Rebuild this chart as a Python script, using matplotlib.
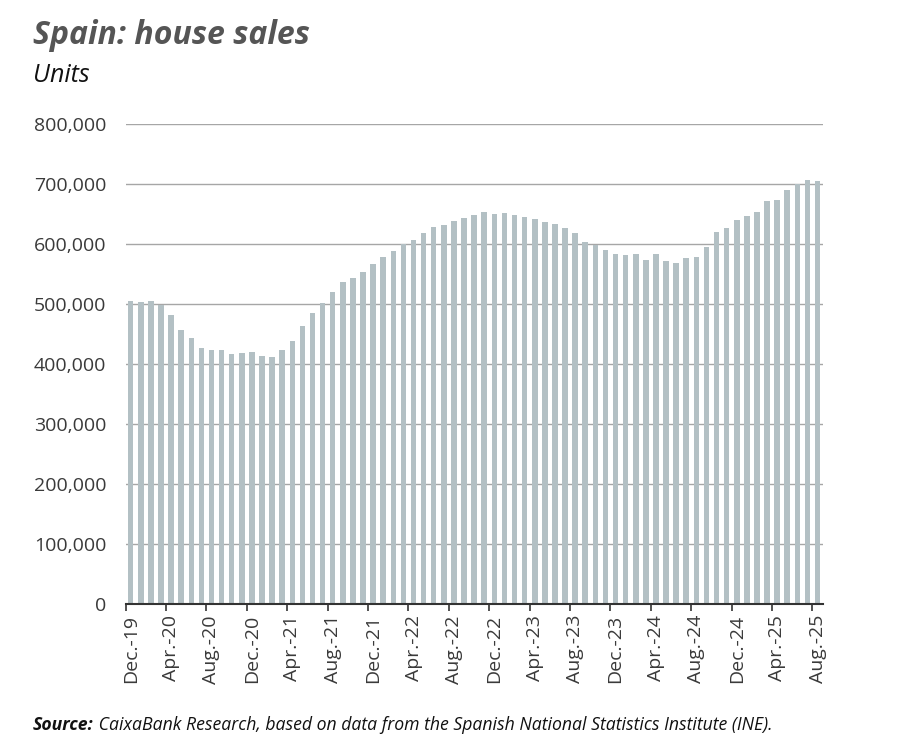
import matplotlib
matplotlib.use("Agg")
import matplotlib.pyplot as plt
from matplotlib.ticker import FuncFormatter, FixedLocator

months = ["Dec.-19", "Jan.-20", "Feb.-20", "Mar.-20", "Apr.-20", "May-20", "Jun.-20", "Jul.-20",
          "Aug.-20", "Sep.-20", "Oct.-20", "Nov.-20", "Dec.-20", "Jan.-21", "Feb.-21", "Mar.-21",
          "Apr.-21", "May-21", "Jun.-21", "Jul.-21", "Aug.-21", "Sep.-21", "Oct.-21", "Nov.-21",
          "Dec.-21", "Jan.-22", "Feb.-22", "Mar.-22", "Apr.-22", "May-22", "Jun.-22", "Jul.-22",
          "Aug.-22", "Sep.-22", "Oct.-22", "Nov.-22", "Dec.-22", "Jan.-23", "Feb.-23", "Mar.-23",
          "Apr.-23", "May-23", "Jun.-23", "Jul.-23", "Aug.-23", "Sep.-23", "Oct.-23", "Nov.-23",
          "Dec.-23", "Jan.-24", "Feb.-24", "Mar.-24", "Apr.-24", "May-24", "Jun.-24", "Jul.-24",
          "Aug.-24", "Sep.-24", "Oct.-24", "Nov.-24", "Dec.-24", "Jan.-25", "Feb.-25", "Mar.-25",
          "Apr.-25", "May-25", "Jun.-25", "Jul.-25", "Aug.-25"]

sales = [505000, 503000, 505000, 498000, 482000, 456000, 443000, 427000,
         423000, 423000, 417000, 418000, 420000, 413000, 411000, 423000,
         439000, 464000, 485000, 502000, 520000, 536000, 544000, 554000,
         567000, 578000, 589000, 600000, 606000, 619000, 628000, 632000,
         639000, 644000, 649000, 654000, 650000, 652000, 649000, 645000,
         641000, 637000, 633000, 627000, 618000, 604000, 598000, 590000,
         583000, 582000, 584000, 574000, 584000, 572000, 568000, 577000,
         578000, 595000, 620000, 627000, 640000, 646000, 653000, 672000,
         673000, 690000, 700000, 707000, 705000]

y_ticks = [0, 100000, 200000, 300000, 400000, 500000, 600000, 700000, 800000]

title = "Spain: house sales"
subtitle = "Units"
source_bold = "Source:"
source_rest = " CaixaBank Research, based on data from the Spanish National Statistics Institute (INE)."

FONT = "Open Sans"
BAR = "#b3c0c4"
GRID = "#a6a6a6"
TXT = "#3a3a3a"

fig = plt.figure(figsize=(9, 7.55), dpi=100)
ax = fig.add_axes([0.1396, 0.2, 0.9140 - 0.1396, 0.8358 - 0.2])

x = list(range(len(sales)))
ax.bar(x, sales, width=0.55, color=BAR, zorder=3)

ax.set_xlim(-0.5, len(sales) - 0.5)
ax.set_ylim(0, 800000)
ax.set_yticks(y_ticks)
ax.yaxis.set_major_formatter(FuncFormatter(lambda v, p: f"{int(v):,}"))
ax.grid(axis="y", color=GRID, linewidth=1.0, zorder=0)
ax.tick_params(axis="y", length=0, pad=14, labelsize=14, labelcolor=TXT)
for lab in ax.get_yticklabels():
    lab.set_family(FONT)

label_idx = list(range(0, len(sales), 4))
ax.set_xticks(label_idx)
ax.set_xticklabels([months[i] for i in label_idx], rotation=90, fontsize=14,
                   color=TXT, family=FONT)
ax.tick_params(axis="x", which="major", length=0, pad=8)
ax.xaxis.set_minor_locator(FixedLocator([i - 0.5 for i in label_idx]))
ax.tick_params(axis="x", which="minor", length=5, width=1.2, color="#333333", direction="out")

for s in ["top", "right", "left"]:
    ax.spines[s].set_visible(False)
ax.spines["bottom"].set_color("#333333")
ax.spines["bottom"].set_linewidth(1.5)
ax.spines["bottom"].set_zorder(4)

fig.text(33 / 900, 1 - 35 / 755, title, fontsize=23, fontweight="bold", style="italic",
         color="#555555", family=FONT, va="center", ha="left")
fig.text(33 / 900, 1 - 75 / 755, subtitle, fontsize=18, style="italic",
         color="#111111", family=FONT, va="center", ha="left")

t1 = fig.text(33 / 900, 1 - 725 / 755, source_bold, fontsize=12.7, fontweight="bold",
              style="italic", color="#111111", family=FONT, va="center", ha="left")
fig.canvas.draw()
bb = t1.get_window_extent()
x1 = bb.x1 / fig.bbox.width
fig.text(x1, 1 - 725 / 755, source_rest, fontsize=12.7, style="italic",
         color="#111111", family=FONT, va="center", ha="left")

fig.savefig("out.png", dpi=100)
